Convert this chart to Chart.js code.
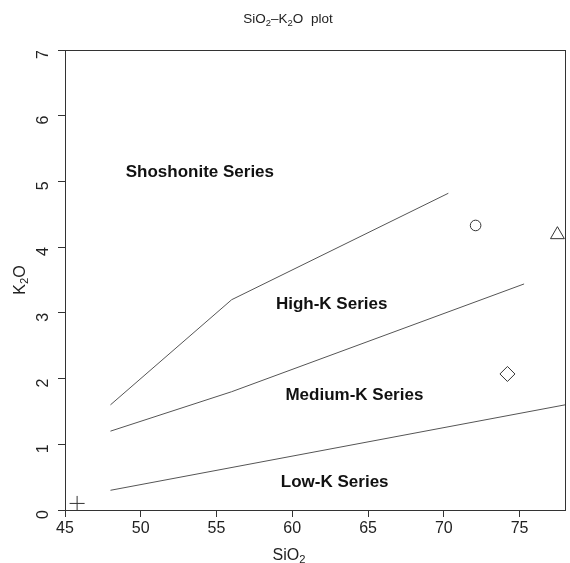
<!DOCTYPE html>
<html><head><meta charset="utf-8">
<script src="https://cdn.jsdelivr.net/npm/chart.js@4"></script>
<style>html,body{margin:0;padding:0;background:#fff}#wrap{width:570px;height:563px}</style>
</head><body><div id="wrap"><canvas id="c" width="570" height="563"></canvas></div>
<script>
const xTicks = [45, 50, 55, 60, 65, 70, 75];
const yTicks = [0, 1, 2, 3, 4, 5, 6, 7];
const shoshoniteLineX = [48, 56, 70.3];
const shoshoniteLineY = [1.6, 3.2, 4.82];
const highKLineX = [48, 56, 75.3];
const highKLineY = [1.2, 1.8, 3.44];
const lowKLineX = [48, 78];
const lowKLineY = [0.3, 1.6];
const sampleX = [72.1, 77.5, 74.2, 45.8];
const sampleY = [4.33, 4.19, 2.07, 0.1];
const sampleShapes = ['circle', 'triangle', 'rectRot', 'cross'];
const fieldNames = ['Shoshonite Series', 'High-K Series', 'Medium-K Series', 'Low-K Series'];
const fieldX = [53.9, 62.6, 64.1, 62.8];
const fieldY = [5.14, 3.13, 1.74, 0.42];
// text pieces: [text, isSubscript]
const titleParts = [['SiO', 0], ['2', 1], ['–K', 0], ['2', 1], ['O  plot', 0]];
const xTitleParts = [['SiO', 0], ['2', 1]];
const yTitleParts = [['K', 0], ['2', 1], ['O', 0]];

const FONT = "'Liberation Sans', Arial, Helvetica, sans-serif";
const zip = (xs, ys) => xs.map((x, i) => ({ x: x, y: ys[i] }));

const lineDs = (label, xs, ys) => ({
  label: label, data: zip(xs, ys), showLine: true, borderColor: '#555', borderWidth: 1,
  pointRadius: 0, fill: false, tension: 0
});

function drawParts(ctx, parts, cx, cy, size, rot) {
  const sub = size * 0.7;
  const fontOf = s => s ? (sub + 'px ' + FONT) : (size + 'px ' + FONT);
  let w = 0;
  parts.forEach(p => { ctx.font = fontOf(p[1]); w += ctx.measureText(p[0]).width; });
  ctx.save();
  ctx.translate(cx, cy);
  ctx.rotate(rot);
  ctx.fillStyle = '#222';
  ctx.textAlign = 'left';
  ctx.textBaseline = 'alphabetic';
  let x = -w / 2;
  const base = size * 0.36;
  parts.forEach(p => {
    ctx.font = fontOf(p[1]);
    ctx.fillText(p[0], x, base + (p[1] ? size * 0.22 : 0));
    x += ctx.measureText(p[0]).width;
  });
  ctx.restore();
}

const framePlugin = {
  id: 'frame',
  afterDatasetsDraw(chart) {
    const ctx = chart.ctx, a = chart.chartArea;
    ctx.save();
    ctx.font = 'bold 17px ' + FONT;
    ctx.fillStyle = '#111';
    ctx.textAlign = 'center';
    ctx.textBaseline = 'middle';
    fieldNames.forEach((n, i) => {
      ctx.fillText(n, chart.scales.x.getPixelForValue(fieldX[i]), chart.scales.y.getPixelForValue(fieldY[i]));
    });
    ctx.strokeStyle = '#333';
    ctx.lineWidth = 1;
    ctx.strokeRect(Math.round(a.left) + 0.5, Math.round(a.top) + 0.5, Math.round(a.right - a.left), Math.round(a.bottom - a.top));
    ctx.restore();
    drawParts(ctx, titleParts, 288, 18, 13.5, 0);
    drawParts(ctx, xTitleParts, 289, 554, 16, 0);
    drawParts(ctx, yTitleParts, 19, (a.top + a.bottom) / 2, 16, -Math.PI / 2);
  }
};

new Chart(document.getElementById('c'), {
  type: 'scatter',
  data: {
    datasets: [
      lineDs('shoshonite', shoshoniteLineX, shoshoniteLineY),
      lineDs('highK', highKLineX, highKLineY),
      lineDs('lowK', lowKLineX, lowKLineY),
      {
        label: 'samples', data: zip(sampleX, sampleY), showLine: false,
        pointStyle: sampleShapes, pointRadius: [5.3, 8, 7.5, 7.5],
        borderColor: '#333', borderWidth: 1, backgroundColor: 'rgba(0,0,0,0)'
      }
    ]
  },
  options: {
    responsive: false, animation: false, devicePixelRatio: 1,
    layout: { autoPadding: false, padding: { left: 0, right: 5, top: 50, bottom: 0 } },
    plugins: { legend: { display: false }, tooltip: { enabled: false }, title: { display: false } },
    scales: {
      x: {
        type: 'linear', min: 45, max: 78,
        afterBuildTicks: s => { s.ticks = xTicks.map(v => ({ value: v })); },
        afterFit: s => { s.height = 53; },
        grid: { drawOnChartArea: false, drawTicks: true, tickLength: 7, color: '#333' },
        border: { display: true, color: '#333' },
        ticks: { color: '#222', font: { family: FONT, size: 16 }, padding: 2, maxRotation: 0 },
        title: { display: false }
      },
      y: {
        type: 'linear', min: 0, max: 7,
        afterBuildTicks: s => { s.ticks = yTicks.map(v => ({ value: v })); },
        afterFit: s => { s.width = 65; },
        grid: { drawOnChartArea: false, drawTicks: true, tickLength: 7, color: '#333' },
        border: { display: true, color: '#333' },
        ticks: { color: '#222', font: { family: FONT, size: 16 }, padding: 14, minRotation: 90, maxRotation: 90 },
        title: { display: false }
      }
    }
  },
  plugins: [framePlugin]
});
</script></body></html>
